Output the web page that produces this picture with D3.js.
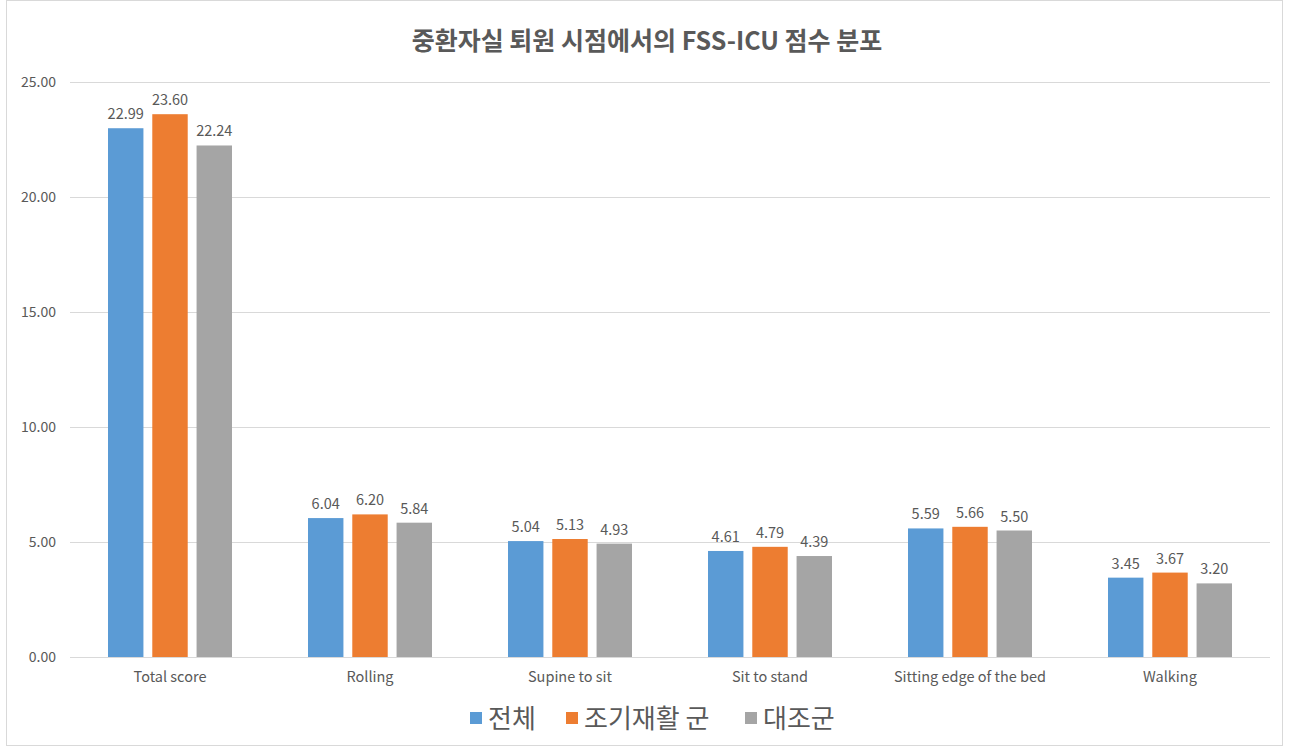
<!DOCTYPE html>
<meta charset="utf-8">
<style>
  body { margin: 0; background: #fff; }
  text { font-family: "Noto Sans CJK KR", "Open Sans", sans-serif; fill: #595959; }
</style>
<body>
<div class="chart"></div>
<script src="https://d3js.org/d3.v7.min.js"></script>
<script>

// chart data
var categories = ["Total score", "Rolling", "Supine to sit", "Sit to stand", "Sitting edge of the bed", "Walking"];
var seriesNames = ["전체", "조기재활 군", "대조군"];
var total   = [22.99, 6.04, 5.04, 4.61, 5.59, 3.45];
var early   = [23.60, 6.20, 5.13, 4.79, 5.66, 3.67];
var control = [22.24, 5.84, 4.93, 4.39, 5.50, 3.20];
var yTicks = [0, 5, 10, 15, 20, 25];
var colors = ["#5b9bd5", "#ed7d31", "#a5a5a5"];

var W = 1289, H = 748;
var margin = {top: 82, right: 19, bottom: 91, left: 70},
    width = W - margin.left - margin.right,
    height = H - margin.top - margin.bottom;

var svg = d3.select(".chart").append("svg")
    .attr("width", W)
    .attr("height", H);

// outer chart border
svg.append("rect")
    .attr("x", 6.5).attr("y", 0.5)
    .attr("width", W - 13).attr("height", H - 3)
    .attr("fill", "#fff")
    .attr("stroke", "#d9d9d9");

var g = svg.append("g")
    .attr("transform", "translate(" + margin.left + "," + margin.top + ")");

var x = d3.scaleBand().domain(categories).range([0, width]);
var x1 = d3.scaleBand().domain(d3.range(3)).range([38, x.bandwidth() - 38]).paddingInner(0.2);
var y = d3.scaleLinear().domain([0, 25]).range([height, 0]);

// gridlines
g.selectAll(".grid")
    .data(yTicks)
  .enter().append("line")
    .attr("x1", 0).attr("x2", width)
    .attr("y1", function(d) { return Math.round(y(d)) + 0.5; })
    .attr("y2", function(d) { return Math.round(y(d)) + 0.5; })
    .attr("stroke", "#d9d9d9")
    .attr("stroke-width", 1);

// y tick labels
g.selectAll(".ylab")
    .data(yTicks)
  .enter().append("text")
    .attr("x", -14)
    .attr("y", function(d) { return y(d); })
    .attr("dy", "0.35em")
    .attr("text-anchor", "end")
    .style("font-size", "14px")
    .text(function(d) { return d3.format(".2f")(d); });

var series = [total, early, control];

series.forEach(function(vals, si) {
  g.selectAll(".bar" + si)
      .data(vals)
    .enter().append("rect")
      .attr("x", function(d, i) { return x(categories[i]) + x1(si); })
      .attr("y", function(d) { return y(d); })
      .attr("width", x1.bandwidth())
      .attr("height", function(d) { return height - y(d); })
      .attr("fill", colors[si]);

  g.selectAll(".lab" + si)
      .data(vals)
    .enter().append("text")
      .attr("x", function(d, i) { return x(categories[i]) + x1(si) + x1.bandwidth() / 2; })
      .attr("y", function(d) { return y(d) - 9; })
      .attr("text-anchor", "middle")
      .style("font-size", "14.5px")
      .text(function(d) { return d3.format(".2f")(d); });
});

// redraw baseline over bars
g.append("line")
    .attr("x1", 0).attr("x2", width)
    .attr("y1", Math.round(y(0)) + 0.5).attr("y2", Math.round(y(0)) + 0.5)
    .attr("stroke", "#d9d9d9");

// x labels
g.selectAll(".xlab")
    .data(categories)
  .enter().append("text")
    .attr("x", function(d) { return x(d) + x.bandwidth() / 2; })
    .attr("y", height + 25)
    .attr("text-anchor", "middle")
    .style("font-size", "14.5px")
    .text(function(d) { return d; });

// title
svg.append("text")
    .attr("x", 647)
    .attr("y", 50)
    .attr("text-anchor", "middle")
    .style("font-size", "25px")
    .style("font-weight", "bold")
    .text("중환자실 퇴원 시점에서의 FSS-ICU 점수 분포");

// legend
var legendX = [470, 566, 745];
var legend = svg.selectAll(".legend")
    .data(seriesNames)
  .enter().append("g")
    .attr("transform", function(d, i) { return "translate(" + legendX[i] + ",712)"; });

legend.append("rect")
    .attr("width", 12).attr("height", 12)
    .attr("fill", function(d, i) { return colors[i]; });

legend.append("text")
    .attr("x", 18)
    .attr("y", 6)
    .attr("dy", "0.38em")
    .style("font-size", "26px")
    .text(function(d) { return d; });

</script>
</body>
